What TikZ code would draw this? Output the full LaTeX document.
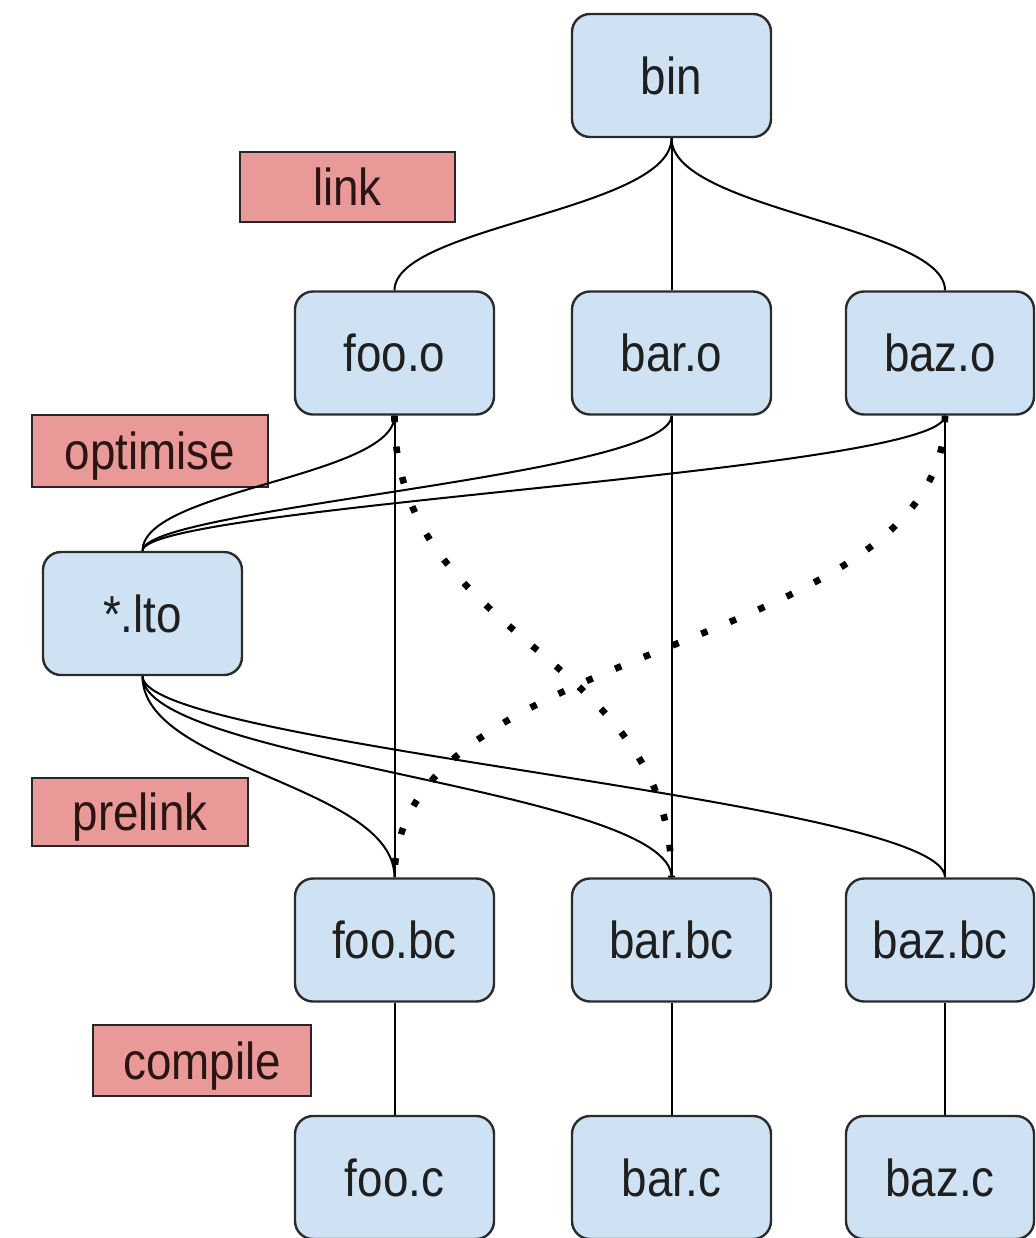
\documentclass[tikz,border=0pt]{standalone}
\usepackage{fontspec}
\setmainfont{Liberation Sans}[FakeStretch=0.88]
\definecolor{boxblue}{HTML}{CFE2F3}
\definecolor{boxedge}{HTML}{2B2B2B}
\definecolor{stagered}{HTML}{EA9999}
\definecolor{stagetext}{HTML}{2A1414}
\tikzset{
  file/.style={draw=boxedge, fill=boxblue, line width=1.2pt, rounded corners=9pt,
    minimum width=99.5pt, minimum height=61.5pt, inner sep=0pt,
    text height=18.7pt, text depth=0pt, text=black!88,
    font=\fontsize{26}{30}\selectfont},
  stage/.style={draw=black!85, fill=stagered, line width=1.2pt, inner sep=0pt,
    text height=18.7pt, text depth=0pt, text=stagetext,
    font=\fontsize{26}{30}\selectfont},
  dep/.style={draw=black, line width=1pt},
  ltodots/.style={draw=black, line width=3.3pt, dash pattern=on 3.3pt off 12.2pt},
}
\begin{document}
\begin{tikzpicture}[x=0.5pt, y=-0.5pt]
\useasboundingbox (0,0) rectangle (1035,1238);

% files
\node[file] (bin)   at (671.5,75.5) {bin};
\node[file] (fooo)  at (394.5,353) {foo.o};
\node[file] (baro)  at (671.5,353) {bar.o};
\node[file, minimum width=94pt] (bazo) at (940,353) {baz.o};
\node[file] (lto)   at (142.5,613.5) {*.lto};
\node[file] (foobc) at (394.5,940) {foo.bc};
\node[file] (barbc) at (671.5,940) {bar.bc};
\node[file, minimum width=94pt] (bazbc) at (940,940) {baz.bc};
\node[file] (fooc)  at (394.5,1177.5) {foo.c};
\node[file] (barc)  at (671.5,1177.5) {bar.c};
\node[file, minimum width=94pt] (bazc) at (940,1177.5) {baz.c};

% build stages
\node[stage, minimum width=107.5pt, minimum height=35pt] (link) at (347.5,187) {link};
\node[stage, minimum width=118pt, minimum height=36pt] (optimise) at (150,451) {optimise};
\node[stage, minimum width=108pt, minimum height=34pt] (prelink) at (140,812) {prelink};
\node[stage, minimum width=109pt, minimum height=35.5pt] (compile) at (202,1060.5) {compile};

% anchors on the baz column
\coordinate (bazoN)  at ([xshift=2.5pt]bazo.north);
\coordinate (bazoS)  at ([xshift=2.5pt]bazo.south);
\coordinate (bazbcN) at ([xshift=2.5pt]bazbc.north);
\coordinate (bazbcS) at ([xshift=2.5pt]bazbc.south);
\coordinate (bazcN)  at ([xshift=2.5pt]bazc.north);

% link
\draw[dep] (bin.south) .. controls +(0,72) and +(0,-64) .. (fooo.north);
\draw[dep] (bin.south) -- (baro.north);
\draw[dep] (bin.south) .. controls +(0,72) and +(0,-64) .. (bazoN);

% optimise
\draw[dep] (lto.north) .. controls +(0,-61) and +(0,61) .. (fooo.south);
\draw[dep] (lto.north) .. controls +(0,-43) and +(0,60) .. (baro.south);
\draw[dep] (lto.north) .. controls +(0,-45) and +(0,56) .. (bazoS);

% objects built straight from bitcode
\draw[dep] (fooo.south) -- (foobc.north);
\draw[dep] (baro.south) -- (barbc.north);
\draw[dep] (bazoS) -- (bazbcN);
\draw[ltodots] (fooo.south) .. controls +(0,226) and +(0,-226) .. (barbc.north);
\draw[ltodots] (bazoS) .. controls +(0,240) and +(0,-240) .. (foobc.north);

% prelink
\draw[dep] (lto.south) .. controls +(0,92) and +(0,-92) .. (foobc.north);
\draw[dep] (lto.south) .. controls +(0,84) and +(0,-87) .. (barbc.north);
\draw[dep] (lto.south) .. controls +(0,69) and +(0,-77) .. (bazbcN);

% compile
\draw[dep] (foobc.south) -- (fooc.north);
\draw[dep] (barbc.south) -- (barc.north);
\draw[dep] (bazbcS) -- (bazcN);
\end{tikzpicture}
\end{document}
